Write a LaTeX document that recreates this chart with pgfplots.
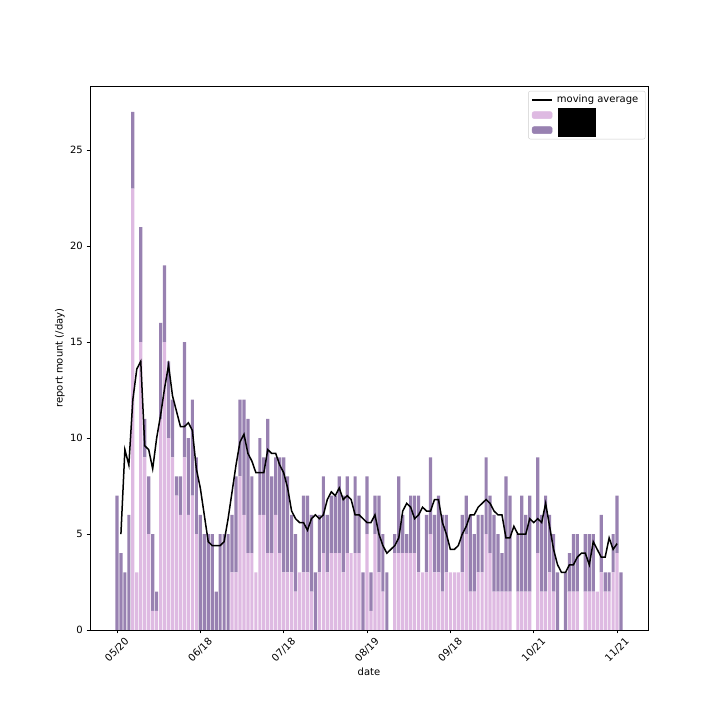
\documentclass[border=0pt]{standalone}
\usepackage{pgfplots}
\usepackage{pgfplotstable}
\usepackage{fontspec}
\setmainfont{DejaVu Sans}
\pgfplotsset{compat=1.18}
\definecolor{lightp}{RGB}{222,186,226}
\definecolor{darkp}{RGB}{152,129,177}
\pgfplotstableread{
x light dark
0 0 7
1 0 4
2 0 3
3 0 6
4 23 4
5 3 0
6 15 6
7 9 2
8 5 3
9 1 4
10 1 1
11 11 5
12 15 4
13 10 4
14 9 3
15 7 1
16 6 2
17 9 6
18 6 4
19 7 5
20 5 4
21 0 6
22 0 5
23 0 5
24 0 5
25 0 2
26 0 5
27 0 5
28 0 5
29 3 3
30 3 5
31 8 4
32 6 6
33 4 7
34 4 4
35 3 0
36 6 4
37 6 3
38 4 7
39 4 4
40 6 3
41 4 5
42 3 6
43 3 5
44 3 3
45 2 3
46 3 0
47 3 4
48 3 4
49 2 4
50 0 3
51 3 3
52 4 4
53 3 3
54 4 3
55 4 3
56 4 4
57 3 4
58 4 4
59 4 0
60 4 4
61 4 3
62 0 3
63 5 3
64 1 2
65 5 2
66 3 4
67 2 3
68 0 3
69 0 0
70 4 1
71 4 4
72 4 2
73 4 1
74 4 3
75 4 3
76 3 4
77 3 0
78 3 3
79 5 4
80 3 3
81 3 4
82 2 4
83 3 3
84 3 0
85 3 0
86 3 0
87 3 3
88 5 2
89 2 4
90 2 3
91 3 3
92 3 3
93 5 4
94 4 3
95 2 4
96 2 3
97 2 2
98 2 6
99 2 5
100 0 0
101 2 3
102 2 5
103 2 4
104 2 5
105 0 0
106 4 5
107 2 4
108 2 5
109 3 3
110 2 3
111 0 3
112 0 0
113 0 3
114 2 2
115 2 3
116 2 3
117 0 0
118 2 3
119 2 3
120 2 3
121 2 0
122 3 3
123 2 1
124 2 1
125 3 2
126 4 3
127 0 3
}\bars
\pgfplotstableread{
x ma
1 5.0
2 9.4
3 8.6
4 12.0
5 13.6
6 14.0
7 9.6
8 9.4
9 8.4
10 10.0
11 11.2
12 12.6
13 13.8
14 12.2
15 11.4
16 10.6
17 10.6
18 10.8
19 10.4
20 8.4
21 7.4
22 6.0
23 4.6
24 4.4
25 4.4
26 4.4
27 4.6
28 5.8
29 7.2
30 8.6
31 9.8
32 10.2
33 9.2
34 8.8
35 8.2
36 8.2
37 8.2
38 9.4
39 9.2
40 9.2
41 8.6
42 8.2
43 7.4
44 6.2
45 5.8
46 5.6
47 5.6
48 5.2
49 5.8
50 6.0
51 5.8
52 6.0
53 6.8
54 7.2
55 7.0
56 7.4
57 6.8
58 7.0
59 6.8
60 6.0
61 6.0
62 5.8
63 5.6
64 5.6
65 6.0
66 5.0
67 4.4
68 4.0
69 4.2
70 4.4
71 4.8
72 6.2
73 6.6
74 6.4
75 5.8
76 6.0
77 6.4
78 6.2
79 6.2
80 6.8
81 6.8
82 5.6
83 5.0
84 4.2
85 4.2
86 4.4
87 5.0
88 5.4
89 6.0
90 6.0
91 6.4
92 6.6
93 6.8
94 6.6
95 6.2
96 6.0
97 6.0
98 4.8
99 4.8
100 5.4
101 5.0
102 5.0
103 5.0
104 5.8
105 5.6
106 5.8
107 5.6
108 6.6
109 5.4
110 4.2
111 3.4
112 3.0
113 3.0
114 3.4
115 3.4
116 3.8
117 4.0
118 4.0
119 3.4
120 4.6
121 4.2
122 3.8
123 3.8
124 4.8
125 4.2
126 4.5
}\mavg
\begin{document}
\begin{tikzpicture}[font=\fontsize{10bp}{12bp}\selectfont]
\useasboundingbox (0,0) rectangle (720bp,720bp);
\pgfplotsset{common/.style={at={(90bp,90bp)}, anchor=south west, scale only axis,
  width=558bp, height=544bp, xmin=-6.79, xmax=133.79, ymin=0, ymax=28.35}}
\begin{axis}[common, ybar stacked, bar width=0.8,
  tick pos=left, tick align=outside, major tick length=3.5bp,
  every tick/.style={black, line width=0.8bp},
  axis line style={line width=0.8bp},
  xtick={0,21,42,63,84,105,126},
  xticklabels={05/20,06/18,07/18,08/19,09/18,10/21,11/21},
  ytick={0,5,10,15,20,25},
  /pgf/number format/assume math mode=true,
  tick label style={font=\fontsize{10bp}{12bp}\selectfont},
  xticklabel style={rotate=45, anchor=center, inner sep=0bp},
  xticklabel shift=16.5bp,
  yticklabel style={anchor=east, inner sep=0bp},
  yticklabel shift=3.5bp,
  xlabel={date}, ylabel={report mount (/day)},
  label style={font=\fontsize{10bp}{12bp}\selectfont},
  xlabel style={at={(axis description cs:0.5,-0.0772)}, anchor=center, inner sep=0bp},
  ylabel style={at={(axis description cs:-0.0538,0.5)}, anchor=center, inner sep=0bp},
]
\addplot[fill=lightp, draw=none] table[x=x, y=light]{\bars};
\addplot[fill=darkp, draw=none] table[x=x, y=dark]{\bars};
\end{axis}
\begin{axis}[common, hide axis,
  legend cell align=left,
  legend style={at={(axis description cs:0.9955,0.991)}, anchor=north east,
    draw=black!20, rounded corners=2bp, fill=white,
    font=\fontsize{10bp}{12bp}\selectfont,
    inner xsep=3bp, inner ysep=4bp, row sep=5bp,
    nodes={inner ysep=0bp, inner xsep=4bp, text height=7.5bp, text depth=2.5bp}},
]
\addlegendimage{legend image code/.code={\draw[black, line width=1.5bp] (0bp,0bp) -- (20bp,0bp);}}
\addlegendentry{moving average}
\addlegendimage{legend image code/.code={\fill[lightp] (0bp,-3.5bp) rectangle (20bp,3.5bp);}}
\addlegendentry{\hspace*{38bp}}
\addlegendimage{legend image code/.code={\fill[darkp] (0bp,-3.5bp) rectangle (20bp,3.5bp);}}
\addlegendentry{\hspace*{38bp}}
\addplot[black, line width=1.5bp, mark=none, forget plot] table[x=x, y=ma]{\mavg};
\end{axis}
\fill[black] (558bp,583.3bp) rectangle (596bp,612.3bp);
\end{tikzpicture}
\end{document}
